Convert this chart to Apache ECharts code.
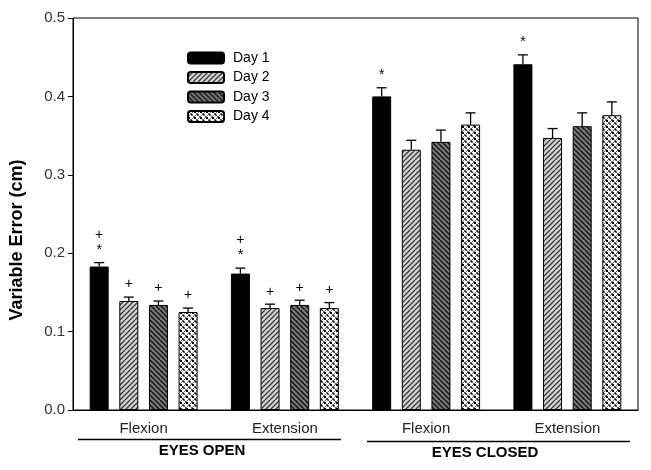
<!DOCTYPE html>
<html>
<head>
<meta charset="utf-8">
<script src="https://cdn.jsdelivr.net/npm/echarts@6/dist/echarts.min.js"></script>
<style>html,body{margin:0;padding:0;background:#fff}#c{width:651px;height:470px}</style>
</head>
<body>
<div id="c"></div>
<script>
// ---- data ----
const categories = ['Flexion', 'Extension', 'Flexion', 'Extension'];
const groupLabels = ['EYES OPEN', 'EYES CLOSED'];
const seriesNames = ['Day 1', 'Day 2', 'Day 3', 'Day 4'];
const day1 = [0.183, 0.174, 0.400, 0.441];
const day2 = [0.139, 0.130, 0.332, 0.347];
const day3 = [0.134, 0.134, 0.342, 0.362];
const day4 = [0.125, 0.130, 0.364, 0.376];
const err1 = [0.005, 0.007, 0.011, 0.012];
const err2 = [0.005, 0.005, 0.012, 0.012];
const err3 = [0.005, 0.006, 0.015, 0.017];
const err4 = [0.005, 0.007, 0.015, 0.017];
const note1 = ['+\n*', '+\n*', '*', '*'];
const note2 = ['+', '+', '', ''];
const note3 = ['+', '+', '', ''];
const note4 = ['+', '+', '', ''];
const yMin = 0, yMax = 0.5, yStep = 0.1;

const values = [day1, day2, day3, day4];
const errs = [err1, err2, err3, err4];
const notes = [note1, note2, note3, note4];

// ---- patterns ----
function pat(fn, w, h) {
  const c = document.createElement('canvas');
  c.width = w; c.height = h;
  const g = c.getContext('2d');
  fn(g, w, h);
  return { image: c, repeat: 'repeat' };
}
const fillDay1 = '#000000';
const fillDay2 = pat(function (g, w, h) {
  g.fillStyle = '#d4d4d4'; g.fillRect(0, 0, w, h);
  g.strokeStyle = '#3a3a3a'; g.lineWidth = 1.3;
  for (let k = -w; k <= w * 2; k += 5) {
    g.beginPath(); g.moveTo(k, h); g.lineTo(k + h, 0); g.stroke();
  }
}, 10, 10);
const fillDay3 = pat(function (g, w, h) {
  g.fillStyle = '#7a7a7a'; g.fillRect(0, 0, w, h);
  g.strokeStyle = '#111'; g.lineWidth = 1.4;
  for (let k = -w; k <= w * 2; k += 5) {
    g.beginPath(); g.moveTo(k, 0); g.lineTo(k + h, h); g.stroke();
  }
}, 10, 10);
const fillDay4 = pat(function (g, w, h) {
  g.fillStyle = '#ffffff'; g.fillRect(0, 0, w, h);
  g.strokeStyle = '#555'; g.lineWidth = 0.9;
  for (let k = -w; k <= w * 2; k += 6) {
    g.beginPath(); g.moveTo(k, 0); g.lineTo(k + h, h); g.stroke();
    g.beginPath(); g.moveTo(k, h); g.lineTo(k + h, 0); g.stroke();
  }
  g.fillStyle = '#000';
  g.fillRect(0, 0, 2, 2); g.fillRect(3, 3, 1.5, 1.5);
}, 6, 6);
const fills = [fillDay1, fillDay2, fillDay3, fillDay4];

const BAR_W = 19;
const BAR_GAP = 0.56;
const STEP = BAR_W * (1 + BAR_GAP);

const series = [];
seriesNames.forEach(function (name, i) {
  series.push({
    name: name,
    type: 'bar',
    barWidth: BAR_W,
    barGap: (BAR_GAP * 100) + '%',
    data: values[i],
    itemStyle: { color: fills[i], borderColor: '#000', borderWidth: 1 },
    emphasis: { disabled: true },
    z: 2
  });
});
seriesNames.forEach(function (name, i) {
  series.push({
    name: 'err' + i,
    type: 'custom',
    z: 3,
    silent: true,
    data: values[i].map(function (v, j) { return [j, v, errs[i][j]]; }),
    renderItem: function (params, api) {
      const j = params.dataIndex;
      const top = api.coord([api.value(0), api.value(1) + api.value(2)]);
      const base = api.coord([api.value(0), api.value(1)]);
      const x = top[0] + (i - 1.5) * STEP;
      const children = [
        { type: 'line', shape: { x1: x, y1: base[1], x2: x, y2: top[1] }, style: { stroke: '#000', lineWidth: 1.3 } },
        { type: 'line', shape: { x1: x - 5, y1: top[1], x2: x + 5, y2: top[1] }, style: { stroke: '#000', lineWidth: 1.3 } }
      ];
      const t = notes[i][j];
      if (t) {
        children.push({
          type: 'text',
          style: {
            text: t, x: x, y: top[1] - 5,
            align: 'center', verticalAlign: 'bottom',
            font: '14px "Liberation Sans", Arial, sans-serif',
            lineHeight: 15, fill: '#000'
          }
        });
      }
      return { type: 'group', children: children };
    }
  });
});

const chart = echarts.init(document.getElementById('c'), null, { renderer: 'canvas' });
chart.setOption({
  animation: false,
  backgroundColor: '#fff',
  textStyle: { fontFamily: '"Liberation Sans", Arial, sans-serif' },
  grid: { left: 73, right: 13, top: 18, bottom: 60, show: true, borderColor: '#000', borderWidth: 1, backgroundColor: 'transparent' },
  legend: {
    data: seriesNames,
    orient: 'vertical',
    left: 187, top: 51, padding: 0,
    itemWidth: 36, itemHeight: 11, itemGap: 5.5,
    textStyle: { fontSize: 14, color: '#000', padding: [0, 0, 0, 4] },
    selectedMode: false
  },
  xAxis: {
    type: 'category',
    data: categories,
    axisLine: { lineStyle: { color: '#000', width: 1 } },
    axisTick: { alignWithLabel: true, length: 4, lineStyle: { color: '#000' } },
    axisLabel: { fontSize: 15, color: '#222', margin: 11 }
  },
  yAxis: {
    type: 'value',
    min: yMin, max: yMax, interval: yStep,
    axisLine: { show: true, lineStyle: { color: '#000', width: 1 } },
    axisTick: { show: true, length: 5, lineStyle: { color: '#000' } },
    splitLine: { show: false },
    axisLabel: { fontSize: 15, color: '#333', margin: 8, formatter: function (v) { return v.toFixed(1); } }
  },
  graphic: [
    { type: 'text', rotation: Math.PI / 2, x: 17, y: 240,
      style: { text: 'Variable Error (cm)', font: 'bold 18px "Liberation Sans", Arial, sans-serif', fill: '#000', align: 'center', verticalAlign: 'middle' } },
    { type: 'line', shape: { x1: 78, y1: 439.5, x2: 341, y2: 439.5 }, style: { stroke: '#000', lineWidth: 1.3 } },
    { type: 'line', shape: { x1: 367, y1: 441.5, x2: 630, y2: 441.5 }, style: { stroke: '#000', lineWidth: 1.3 } },
    { type: 'text', x: 202, y: 451, style: { text: groupLabels[0], font: 'bold 15px "Liberation Sans", Arial, sans-serif', fill: '#000', align: 'center', verticalAlign: 'middle' } },
    { type: 'text', x: 485, y: 453, style: { text: groupLabels[1], font: 'bold 15px "Liberation Sans", Arial, sans-serif', fill: '#000', align: 'center', verticalAlign: 'middle' } }
  ],
  series: series
});
</script>
</body>
</html>
